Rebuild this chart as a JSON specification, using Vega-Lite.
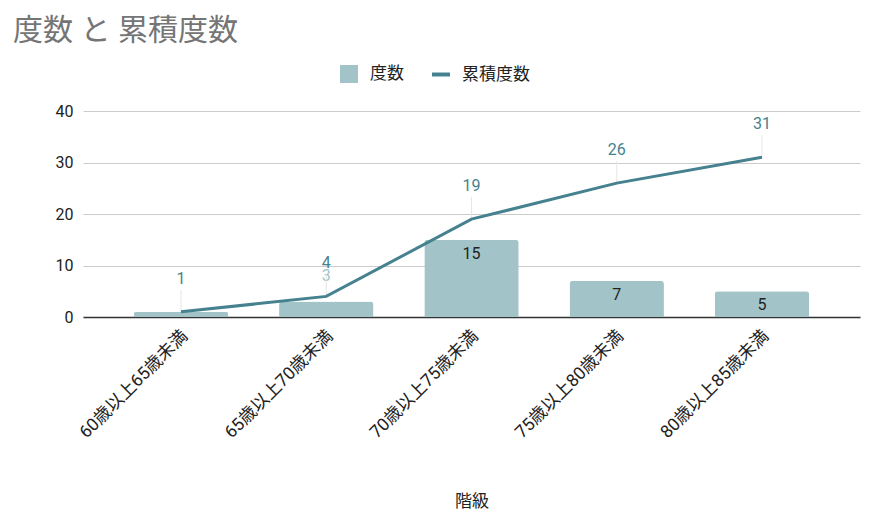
{
  "$schema": "https://vega.github.io/schema/vega-lite/v6.json",
  "width": 777,
  "height": 206,
  "autosize": {"type": "none"},
  "padding": {"left": 83, "top": 111, "right": 31, "bottom": 205},
  "config": {
    "font": "Roboto, 'Noto Sans CJK JP', sans-serif",
    "view": {"stroke": null}
  },
  "title": {
    "text": "度数 と 累積度数",
    "anchor": "start",
    "frame": "group",
    "fontSize": 30,
    "fontWeight": "normal",
    "color": "#757575",
    "dx": -70,
    "offset": 19
  },
  "data": {
    "values": [
      {"cat": "60歳以上65歳未満", "freq": 1, "cum": 1},
      {"cat": "65歳以上70歳未満", "freq": 3, "cum": 4},
      {"cat": "70歳以上75歳未満", "freq": 15, "cum": 19},
      {"cat": "75歳以上80歳未満", "freq": 7, "cum": 26},
      {"cat": "80歳以上85歳未満", "freq": 5, "cum": 31}
    ]
  },
  "encoding": {
    "x": {
      "field": "cat",
      "type": "nominal",
      "sort": null,
      "scale": {"paddingInner": 0.35, "paddingOuter": 0.35},
      "axis": {
        "title": "階級",
        "titleFontSize": 17,
        "titleFontWeight": "normal",
        "titleColor": "#222222",
        "titlePadding": 52,
        "labelAngle": -45,
        "labelAlign": "right",
        "labelBaseline": "middle",
        "labelFontSize": 17.5,
        "labelColor": "#222222",
        "labelPadding": 16,
        "labelOffset": 4,
        "ticks": false,
        "domainColor": "#333333",
        "domainWidth": 1.5
      }
    }
  },
  "layer": [
    {
      "mark": {"type": "bar", "cornerRadiusTopLeft": 3, "cornerRadiusTopRight": 3},
      "encoding": {
        "y": {
          "field": "freq",
          "type": "quantitative",
          "scale": {"domain": [0, 40]},
          "axis": {
            "title": null,
            "values": [0, 10, 20, 30, 40],
            "domain": false,
            "ticks": false,
            "gridColor": "#cccccc",
            "labelFontSize": 16,
            "labelColor": "#222222",
            "labelPadding": 10
          }
        },
        "color": {
          "datum": "度数",
          "type": "nominal",
          "scale": {"domain": ["度数", "累積度数"], "range": ["#a2c4c9", "#45818e"]},
          "legend": {
            "title": null,
            "orient": "none",
            "legendX": 257,
            "legendY": -46,
            "direction": "horizontal",
            "symbolSize": 324,
            "symbolStrokeWidth": 0,
            "labelFontSize": 17,
            "labelColor": "#222222",
            "labelOffset": 12,
            "columnPadding": 28,
            "encode": {
              "symbols": {
                "update": {
                  "shape": {"signal": "datum.label === '累積度数' ? 'M-1,-0.22H1V0.22H-1Z' : 'square'"},
                  "fill": {"signal": "datum.label === '累積度数' ? '#45818e' : '#a2c4c9'"},
                  "strokeWidth": {"value": 0},
                  "opacity": {"value": 1}
                }
              }
            }
          }
        }
      }
    },
    {
      "transform": [{"filter": "datum.freq >= 5"}],
      "mark": {"type": "text", "fontSize": 16, "color": "#222222", "baseline": "middle", "dy": 14},
      "encoding": {
        "y": {"field": "freq", "type": "quantitative"},
        "text": {"field": "freq", "type": "quantitative"}
      }
    },
    {
      "transform": [{"filter": "datum.freq > 1 && datum.freq < 5"}],
      "mark": {"type": "text", "fontSize": 16, "color": "#a2c4c9", "baseline": "middle", "dy": -26},
      "encoding": {
        "y": {"field": "freq", "type": "quantitative"},
        "text": {"field": "freq", "type": "quantitative"}
      }
    },
    {
      "mark": {"type": "rule", "color": "#e6e6e6", "strokeWidth": 1, "y2Offset": -22},
      "encoding": {
        "y": {"field": "cum", "type": "quantitative"},
        "y2": {"field": "cum"}
      }
    },
    {
      "mark": {"type": "line", "strokeWidth": 3},
      "encoding": {
        "y": {"field": "cum", "type": "quantitative"},
        "color": {"datum": "累積度数", "type": "nominal"}
      }
    },
    {
      "mark": {"type": "text", "fontSize": 16, "color": "#45818e", "baseline": "middle", "dy": -33},
      "encoding": {
        "y": {"field": "cum", "type": "quantitative"},
        "text": {"field": "cum", "type": "quantitative"}
      }
    }
  ]
}
